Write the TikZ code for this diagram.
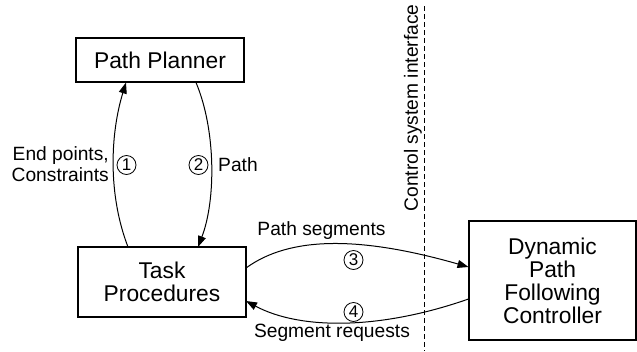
\documentclass[tikz,border=0pt]{standalone}
\usepackage{fontspec}
\setmainfont{Liberation Sans}
\usetikzlibrary{arrows.meta}
\begin{document}
\begin{tikzpicture}[x=1pt,y=-1pt,
  box/.style={draw, line width=1.1pt, align=center, inner sep=0pt, font=\fontsize{22.8}{26}\selectfont},
  lbl/.style={font=\fontsize{19.2}{21.5}\selectfont, inner sep=0pt},
  num/.style={draw, circle, line width=0.8pt, minimum size=19pt, inner sep=0pt, font=\fontsize{17}{17}\selectfont},
  arr/.style={line width=1pt, -{Triangle[length=11pt,width=8pt]}},
  plain/.style={line width=1pt}]
\useasboundingbox (0,0) rectangle (637,351);
\node[box, minimum width=168pt, minimum height=44pt] (pp) at (160,60) {Path Planner};
\node[box, minimum width=168pt, minimum height=70pt] (tp) at (162,282) {Task\\[-3pt]Procedures};
\node[box, minimum width=167pt, minimum height=119pt] (dp) at (552.5,280.5) {Dynamic\\[-3pt]Path\\[-3pt]Following\\[-3pt]Controller};
% interface line
\coordinate (ltop) at (424,6);
\coordinate (lbot) at (424,351);
\draw[line width=0.8pt, dash pattern=on 5pt off 3pt] (ltop) -- (lbot);
\node[lbl, rotate=90] (csi) at (413,108) {Control system interface};
% arrows 1 and 2
\coordinate (a1s) at (128,247);
\coordinate (a1e) at (126,82.5);
\draw[arr] (a1s) .. controls (108,195) and (110,135) .. (a1e);
\coordinate (a2s) at (196,82.5);
\coordinate (a2e) at (198,247);
\draw[arr] (a2s) .. controls (216,130) and (216,200) .. (a2e);
% arrows 3 and 4
\coordinate (a3s) at (246,268);
\coordinate (a3e) at (468.5,267);
\draw[arr] (a3s) .. controls (290,236) and (360,236) .. (a3e);
\coordinate (a4s) at (468.5,299);
\coordinate (a4e) at (246,301);
\draw[arr] (a4s) .. controls (380,330) and (300,330) .. (a4e);
% labels
\node[lbl, align=right, anchor=east] (ep) at (109,164) {End points,\\Constraints};
\node[num] (n1) at (126.5,165) {1};
\node[num] (n2) at (198.5,165) {2};
\node[lbl, anchor=west] (pl) at (218,165) {Path};
\node[lbl] (ps) at (321.5,231) {Path segments};
\node[num] (n3) at (353.5,260) {3};
\node[num] (n4) at (353.5,312) {4};
\node[lbl] (sr) at (332,333) {Segment requests};
\end{tikzpicture}
\end{document}
